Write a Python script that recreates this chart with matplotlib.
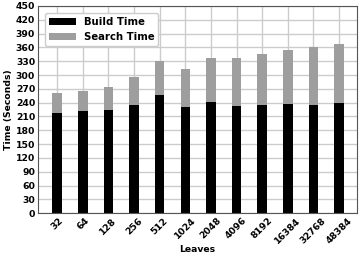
import numpy as np
import matplotlib.pyplot as plt

leaves = ["32", "64", "128", "256", "512", "1024", "2048", "4096", "8192", "16384", "32768", "48384"]
build_time = [217, 222, 224, 234, 256, 230, 242, 233, 236, 238, 236, 240]
total_time = [261, 266, 274, 295, 330, 313, 337, 337, 346, 354, 361, 367]
search_time = [t - b for t, b in zip(total_time, build_time)]

plt.rcParams['font.weight'] = 'bold'
plt.rcParams['axes.labelweight'] = 'bold'
plt.rcParams['font.size'] = 6.7

fig, ax = plt.subplots(figsize=(3.62, 2.6), dpi=100)
x = np.arange(len(leaves))
ax.set_axisbelow(True)
ax.grid(True, color="#cccccc", linewidth=1)
ax.bar(x, build_time, width=0.37, color="black", label="Build Time")
ax.bar(x, search_time, width=0.37, bottom=build_time, color="#9e9e9e", label="Search Time")

ax.set_xticks(x)
ax.set_xticklabels(leaves, rotation=45)
ax.set_yticks(np.arange(0, 451, 30))
ax.set_ylim(0, 450)
ax.set_xlim(-0.75, 11.7)
ax.set_xlabel("Leaves", labelpad=0)
ax.set_ylabel("Time (Seconds)", labelpad=2)
ax.tick_params(length=0, pad=2)
for s in ax.spines.values():
    s.set_color("#555555")
ax.legend(loc="upper left", fancybox=True, framealpha=1, edgecolor="#cccccc",
          fontsize=7.3, handlelength=2.6, borderaxespad=0.7)

plt.subplots_adjust(left=0.105, right=0.986, top=0.977, bottom=0.18)
plt.savefig("out.png")
